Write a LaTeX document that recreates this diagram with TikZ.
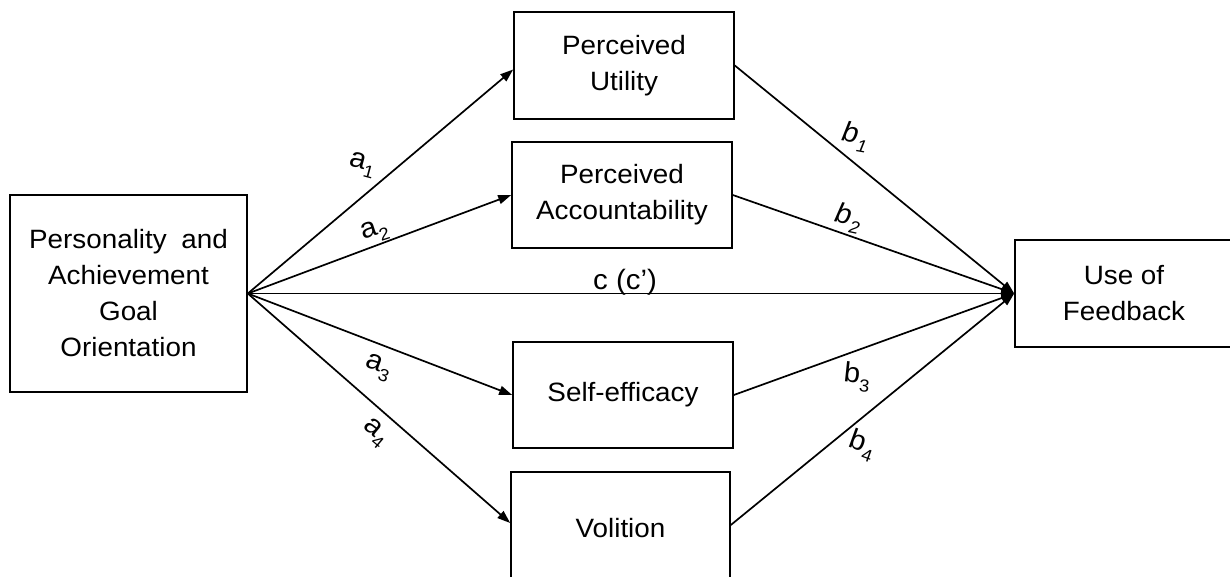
\documentclass[tikz,border=0pt]{standalone}
\usepackage{fontspec}
\setmainfont{Liberation Sans}[FakeStretch=1.05]
\usetikzlibrary{arrows.meta}
\newcommand\lblsub[1]{\raisebox{-0.28em}{\fontsize{17.5}{17.5}\selectfont#1}}
\begin{document}
\begin{tikzpicture}[x=1pt,y=-1pt,
  box/.style={draw, line width=1.6pt, align=center, inner sep=0pt, font=\fontsize{26.5}{36}\selectfont},
  lbl/.style={font=\fontsize{28}{30}\selectfont, inner sep=0pt},
  link/.style={line width=1.7pt},
  arr/.style={link, -{Triangle[length=13pt,width=9pt]}}]
\useasboundingbox (0,0) rectangle (1230,576);
\fill[white] (0,0) rectangle (1230,576);
\clip (0,0) rectangle (1230,576);
\node[box, minimum width=237pt, minimum height=197pt] (L) at (128.5,293.5) {Personality\hspace{0.55em}and\\Achievement\\Goal\\Orientation};
\node[box, minimum width=220pt, minimum height=107pt] (PU) at (624,65.5) {Perceived\\Utility};
\node[box, minimum width=220pt, minimum height=106pt] (PA) at (622,195) {Perceived\\Accountability};
\node[box, minimum width=220pt, minimum height=106pt] (SE) at (623,395) {Self-efficacy};
\node[box, minimum width=219pt, minimum height=112pt] (V) at (620.5,528) {Volition};
\node[box, minimum width=218pt, minimum height=107pt] (UF) at (1124,293.5) {Use of\\Feedback};
\draw[arr] (L.east) -- ([yshift=-4pt]PU.west);
\draw[arr] (L.east) -- (PA.west);
\draw[arr] (L.east) -- (SE.west);
\draw[arr] (L.east) -- ([yshift=5pt]V.west);
\draw[arr] (L.east) -- (UF.west);
\draw[arr] (PU.east) -- (UF.west);
\draw[arr] (PA.east) -- (UF.west);
\draw[arr] (SE.east) -- (UF.west);
\draw[arr] ([yshift=3pt]V.east) -- (UF.west);
\node[lbl, rotate=-15] (la1) at (362,165) {a\lblsub{1}};
\node[lbl, rotate=18] (la2) at (375,232) {a\lblsub{2}};
\node[lbl, rotate=-20] (la3) at (378,368) {a\lblsub{3}};
\node[lbl, rotate=-40] (la4) at (375,433) {a\lblsub{4}};
\node[lbl, rotate=-10] (lb1) at (855,137) {\itshape b\lblsub{1}};
\node[lbl, rotate=-12] (lb2) at (848,218) {\itshape b\lblsub{2}};
\node[lbl, rotate=-6] (lb3) at (857,377) {b\lblsub{3}};
\node[lbl, rotate=-20] (lb4) at (862,445) {b\lblsub{4}};
\node[lbl, anchor=base] (lc) at (625,289) {c (c’)};
\end{tikzpicture}
\end{document}
